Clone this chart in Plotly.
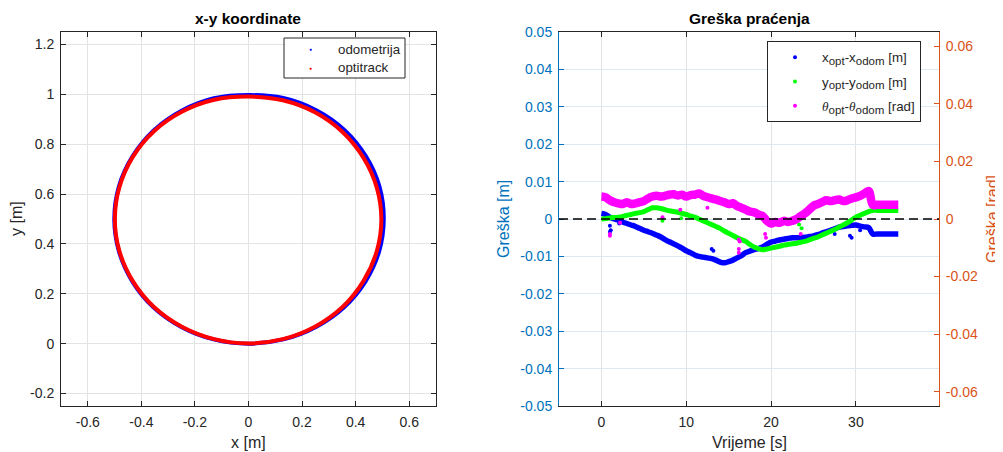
import plotly.graph_objects as go

# x-y trajectory (every 15 degrees round the circle)
odom_x = [0, 0.130, 0.252, 0.357, 0.437, 0.488, 0.505, 0.489, 0.438, 0.358, 0.253, 0.130,
          0, -0.129, -0.250, -0.354, -0.433, -0.484, -0.501, -0.484, -0.434, -0.355, -0.251, -0.130, 0]
odom_y = [0, 0.017, 0.067, 0.146, 0.250, 0.371, 0.500, 0.630, 0.752, 0.857, 0.936, 0.985,
          0.997, 0.984, 0.934, 0.855, 0.751, 0.630, 0.500, 0.371, 0.250, 0.146, 0.067, 0.017, 0]
opti_x = [0, 0.128, 0.248, 0.351, 0.429, 0.479, 0.496, 0.479, 0.429, 0.351, 0.248, 0.128,
          0, -0.128, -0.249, -0.353, -0.432, -0.482, -0.499, -0.482, -0.432, -0.353, -0.249, -0.128, 0]
opti_y = [0.001, 0.018, 0.068, 0.147, 0.251, 0.371, 0.498, 0.626, 0.746, 0.849, 0.928, 0.976,
          0.991, 0.978, 0.930, 0.852, 0.749, 0.628, 0.499, 0.371, 0.251, 0.147, 0.068, 0.018, 0.001]

# tracking error over time (every 0.5 s)
t = [0.5 * i for i in range(71)]
err_x = [0.0015, 0.0012, 0.0005, 0.0, -0.0003, -0.0008, -0.0012, -0.0016, -0.002, -0.0025,
         -0.003, -0.0034, -0.0038, -0.0043, -0.0048, -0.0055, -0.0061, -0.0066, -0.0072, -0.0078,
         -0.0085, -0.009, -0.0096, -0.01, -0.0102, -0.0104, -0.0106, -0.011, -0.0115, -0.0117,
         -0.0114, -0.011, -0.0104, -0.0098, -0.009, -0.0086, -0.0082, -0.0079, -0.0075, -0.0068,
         -0.0062, -0.0059, -0.0056, -0.0054, -0.0052, -0.005, -0.005, -0.005, -0.0049, -0.0047,
         -0.0045, -0.0042, -0.0038, -0.0034, -0.003, -0.0026, -0.0022, -0.002, -0.0018, -0.0017,
         -0.0016, -0.0019, -0.0021, -0.0023, -0.004, -0.004, -0.004, -0.004, -0.004, -0.004, -0.004]
err_y = [0.0, 0.0001, 0.0003, 0.0004, 0.0005, 0.0007, 0.001, 0.0012, 0.0015, 0.0017,
         0.002, 0.0025, 0.003, 0.003, 0.0028, 0.0025, 0.0022, 0.002, 0.0018, 0.0015,
         0.0012, 0.0008, 0.0005, 0.0, -0.0005, -0.001, -0.0015, -0.002, -0.0025, -0.0032,
         -0.0038, -0.0044, -0.005, -0.0055, -0.006, -0.0068, -0.0075, -0.0079, -0.0082, -0.008,
         -0.0078, -0.0075, -0.0073, -0.007, -0.0068, -0.0066, -0.0065, -0.0062, -0.006, -0.0056,
         -0.0052, -0.0048, -0.0043, -0.0038, -0.0033, -0.0028, -0.0022, -0.0016, -0.001, -0.0003,
         0.0005, 0.001, 0.0015, 0.002, 0.0023, 0.0023, 0.0023, 0.0023, 0.0023, 0.0023, 0.0023]
err_th = [0.006, 0.0058, 0.005, 0.0045, 0.0042, 0.004, 0.0045, 0.004, 0.0042, 0.0045,
          0.0048, 0.0055, 0.006, 0.0062, 0.006, 0.0062, 0.0065, 0.0066, 0.0063, 0.0065,
          0.006, 0.0064, 0.0065, 0.0068, 0.0062, 0.0058, 0.0055, 0.0052, 0.0048, 0.0045,
          0.004, 0.0042, 0.0035, 0.003, 0.0025, 0.002, 0.0018, 0.0012, 0.0008, -0.0005,
          -0.0012, -0.0008, -0.001, -0.0005, -0.0008, -0.0005, 0.0, 0.0008, 0.0015, 0.0025,
          0.0035, 0.004, 0.0045, 0.005, 0.0048, 0.005, 0.0052, 0.0048, 0.005, 0.0055,
          0.0058, 0.0062, 0.0068, 0.0075, 0.0038, 0.0038, 0.0038, 0.0038, 0.0038, 0.0038, 0.0038]

# scattered outlier samples
out_x_t = [1.0, 1.0, 1.1, 2.1, 13.0, 13.2, 27.5, 29.3, 29.5, 30.5]
out_x_v = [-0.0018, -0.0035, -0.003, -0.0012, -0.008, -0.0085, -0.004, -0.0045, -0.005, -0.003]
out_y_t = [7.2, 9.4, 23.3, 23.6]
out_y_v = [-0.0005, 0.0002, -0.0015, -0.0025]
out_th_t = [1.0, 1.0, 2.2, 7.2, 9.3, 12.5, 16.2, 16.2, 16.2, 16.3, 19.3, 19.4, 23.5]
out_th_v = [-0.0045, -0.004, -0.001, 0.0005, 0.0025, 0.003, -0.009, -0.008, -0.0055, -0.006,
            -0.004, -0.005, -0.004]

# tick labels
xy_xticks = [-0.6, -0.4, -0.2, 0, 0.2, 0.4, 0.6]
xy_xtext = ["-0.6", "-0.4", "-0.2", "0", "0.2", "0.4", "0.6"]
xy_yticks = [-0.2, 0, 0.2, 0.4, 0.6, 0.8, 1, 1.2]
xy_ytext = ["-0.2", "0", "0.2", "0.4", "0.6", "0.8", "1", "1.2"]
err_ticks = [-0.05, -0.04, -0.03, -0.02, -0.01, 0, 0.01, 0.02, 0.03, 0.04, 0.05]
err_text = ["-0.05", "-0.04", "-0.03", "-0.02", "-0.01", "0", "0.01", "0.02", "0.03", "0.04", "0.05"]
rad_ticks = [-0.06, -0.04, -0.02, 0, 0.02, 0.04, 0.06]
rad_text = ["-0.06", "-0.04", "-0.02", "0", "0.02", "0.04", "0.06"]
time_ticks = [0, 10, 20, 30]

BLUE_AX = "#0072BD"
ORANGE_AX = "#D95319"
DARK = "#262626"
FONT = "Arial, Liberation Sans, sans-serif"

# the page body has an 8px margin, so the figure is drawn 8px in from the corner
OFF = 8
W, H = 1003 - OFF, 452 - OFF
def px_x(p):
    return (p - OFF) / W
def px_y(p):
    return 1 - (p - OFF) / H

SUB = "<sub><span style='font-size:11.5px'>%s</span></sub>"
TH = "<span style='font-family:Liberation Serif, serif'><i>θ</i></span>"

fig = go.Figure()

# left plot
fig.add_trace(go.Scatter(x=odom_x, y=odom_y, mode="lines", line=dict(color="#0000FF", width=4, shape="spline"),
                         name="odometrija", showlegend=False, xaxis="x", yaxis="y"))
fig.add_trace(go.Scatter(x=opti_x, y=opti_y, mode="lines", line=dict(color="#FF0000", width=4, shape="spline"),
                         name="optitrack", showlegend=False, xaxis="x", yaxis="y"))

# right plot
series = [
    (err_x, out_x_t, out_x_v, "#0000FF", 5.5, "x" + SUB % "opt" + "-x" + SUB % "odom" + " [m]"),
    (err_y, out_y_t, out_y_v, "#00FF00", 5, "y" + SUB % "opt" + "-y" + SUB % "odom" + " [m]"),
    (err_th, out_th_t, out_th_v, "#FF00FF", 8.5, TH + SUB % "opt" + "-" + TH + SUB % "odom" + " [rad]"),
]
for i, (vals, ot, ov, col, w, name) in enumerate(series):
    fig.add_trace(go.Scatter(x=t, y=vals, mode="lines", line=dict(color=col, width=w, shape="spline"),
                             showlegend=False, xaxis="x2", yaxis="y2"))
    fig.add_trace(go.Scatter(x=ot, y=ov, mode="markers", marker=dict(color=col, size=4),
                             name=name, legend="legend2", legendgroup="g%d" % i, xaxis="x2", yaxis="y2"))

# invisible trace to activate the right axis
fig.add_trace(go.Scatter(x=[None], y=[None], showlegend=False, xaxis="x2", yaxis="y3"))

TICK = 14
tickfont = dict(family=FONT, size=TICK, color=DARK)
common = dict(showline=True, linewidth=1, ticks="inside", ticklen=5, tickwidth=1, automargin=False,
              showgrid=True, gridwidth=1, zeroline=False, ticklabelstandoff=3)

fig.update_layout(
    width=W, height=H,
    margin=dict(l=0, r=0, t=0, b=0, autoexpand=False),
    paper_bgcolor="white", plot_bgcolor="white",
    font=dict(family=FONT, color=DARK),
    xaxis=dict(domain=[px_x(61), px_x(436)], range=[-0.7, 0.7], tickvals=xy_xticks, ticktext=xy_xtext,
               linecolor=DARK, tickcolor=DARK, gridcolor="#e3e3e3", mirror="ticks", tickfont=tickfont,
               anchor="y", **common),
    yaxis=dict(domain=[px_y(406), px_y(32)], range=[-0.25, 1.25], tickvals=xy_yticks, ticktext=xy_ytext,
               linecolor=DARK, tickcolor=DARK, gridcolor="#e3e3e3", mirror="ticks", tickfont=tickfont,
               anchor="x", **common),
    xaxis2=dict(domain=[px_x(559), px_x(939)], range=[-5, 39.8], tickvals=time_ticks,
                linecolor=DARK, tickcolor=DARK, gridcolor="#e3e3e3", mirror="ticks", tickfont=tickfont,
                anchor="y2", **common),
    yaxis2=dict(domain=[px_y(406), px_y(32)], range=[-0.05, 0.05], tickvals=err_ticks, ticktext=err_text,
                linecolor=BLUE_AX, tickcolor=BLUE_AX, gridcolor="#dde9f3",
                tickfont=dict(family=FONT, size=TICK, color=BLUE_AX), anchor="x2", **common),
    yaxis3=dict(range=[-0.065, 0.065], tickvals=rad_ticks, ticktext=rad_text, overlaying="y2", side="right",
                anchor="x2", showline=True, linecolor=ORANGE_AX, linewidth=1, ticks="inside", ticklen=5,
                tickcolor=ORANGE_AX, showgrid=False, zeroline=False, ticklabelstandoff=3, automargin=False,
                tickfont=dict(family=FONT, size=TICK, color=ORANGE_AX)),
    legend2=dict(x=px_x(767), y=px_y(41), xanchor="left", yanchor="top", bgcolor="white",
                 bordercolor=DARK, borderwidth=1, font=dict(family=FONT, size=13.3, color=DARK),
                 itemwidth=44, tracegroupgap=4),
    shapes=[
        dict(type="line", xref="x2 domain", yref="y2", x0=0, x1=1, y0=0, y1=0,
             line=dict(color="black", width=1.7, dash="9px,5px")),
        # box of the left legend
        dict(type="rect", xref="paper", yref="paper", x0=px_x(284), x1=px_x(405), y0=px_y(78), y1=px_y(38),
             fillcolor="white", line=dict(color=DARK, width=1), layer="above"),
    ],
)

# left legend entries (compact rows like the original)
for name, col, row_y in [("odometrija", "#0000FF", 49), ("optitrack", "#FF0000", 68)]:
    fig.add_annotation(xref="paper", yref="paper", x=px_x(310), y=px_y(row_y), text="●", showarrow=False,
                       font=dict(size=5, color=col), xanchor="center", yanchor="middle")
    fig.add_annotation(xref="paper", yref="paper", x=px_x(336), y=px_y(row_y), text=name, showarrow=False,
                       font=dict(family=FONT, size=13.3, color=DARK), xanchor="left", yanchor="middle")

titlefont = dict(family=FONT, size=15.5, color="black")
labelfont = dict(family=FONT, size=16, color=DARK)
ann = [
    dict(text="<b>x-y koordinate</b>", x=px_x(248), y=px_y(19), font=titlefont, textangle=0),
    dict(text="<b>Greška praćenja</b>", x=px_x(749), y=px_y(19), font=titlefont, textangle=0),
    dict(text="x [m]", x=px_x(248), y=px_y(442), font=labelfont, textangle=0),
    dict(text="Vrijeme [s]", x=px_x(749), y=px_y(442), font=labelfont, textangle=0),
    dict(text="y [m]", x=px_x(17), y=px_y(219), font=labelfont, textangle=-90),
    dict(text="Greška [m]", x=px_x(504), y=px_y(219), font=dict(family=FONT, size=16, color=BLUE_AX), textangle=-90),
    dict(text="Greška [rad]", x=px_x(993), y=px_y(219), font=dict(family=FONT, size=16, color=ORANGE_AX), textangle=-90),
]
for a in ann:
    fig.add_annotation(xref="paper", yref="paper", xanchor="center", yanchor="middle", showarrow=False, **a)

fig.write_html("out.html")
